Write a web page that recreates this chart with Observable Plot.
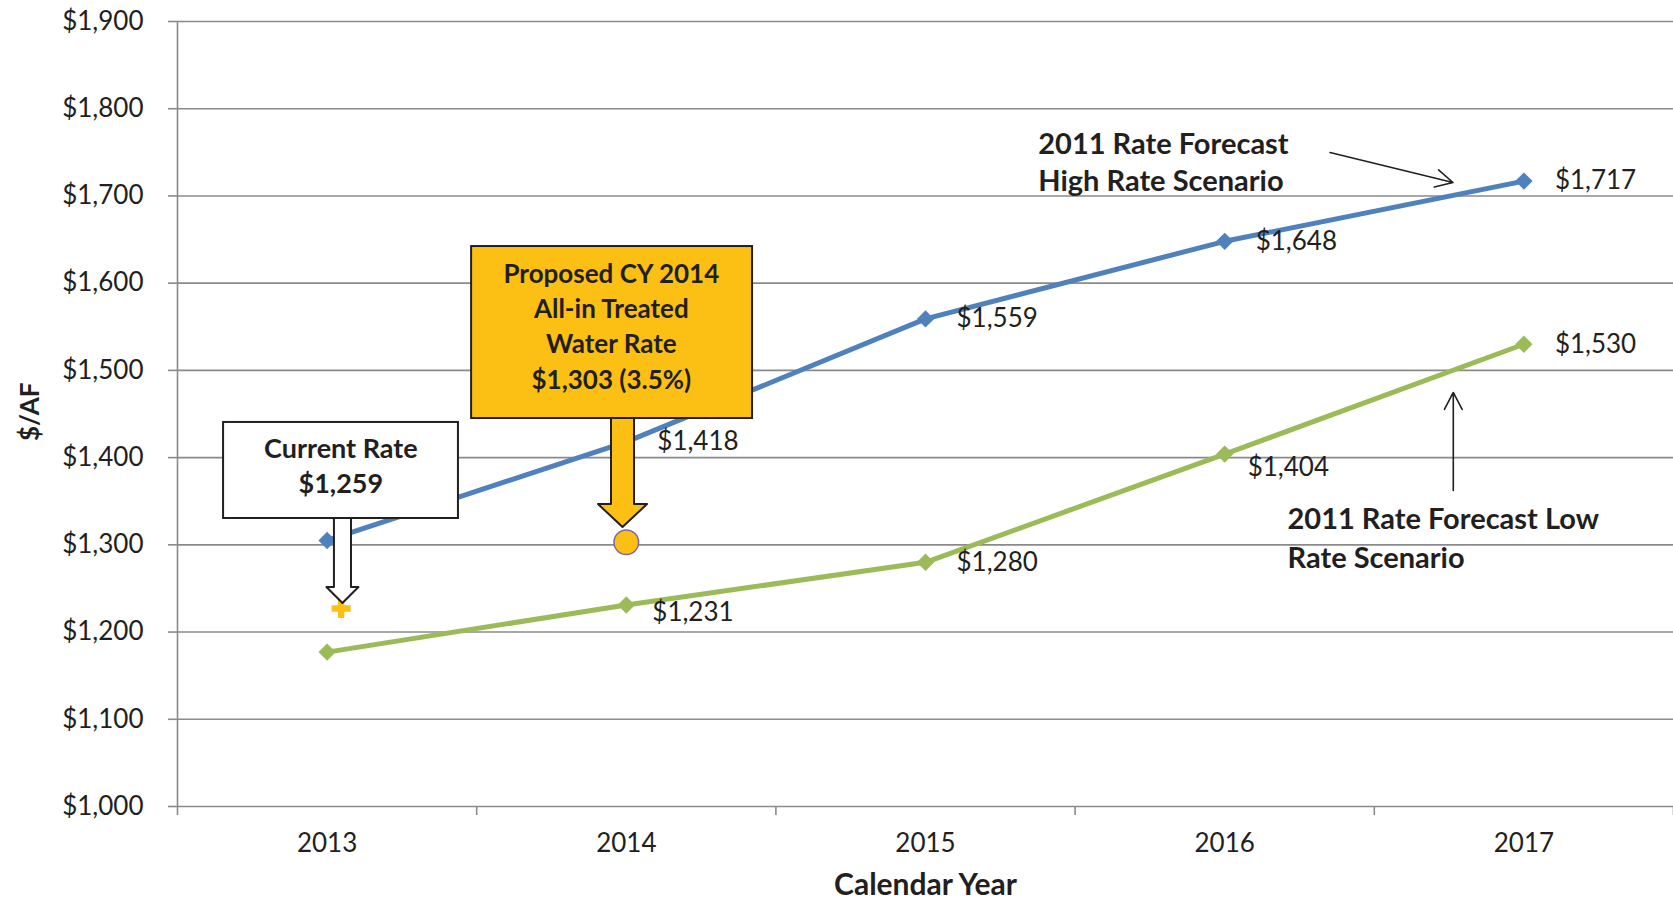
<!DOCTYPE html>
<html>
<head>
<meta charset="utf-8">
<script src="https://cdn.jsdelivr.net/npm/d3@7"></script>
<script src="https://cdn.jsdelivr.net/npm/@observablehq/plot@0.6"></script>
<style>
  html, body { margin: 0; padding: 0; background: #fff; }
  #chart svg { display: block; }
</style>
</head>
<body>
<div id="chart"></div>
<script>
// ---- data ----
const years = [2013, 2014, 2015, 2016, 2017];
const highRate = [1305, 1418, 1559, 1648, 1717];   // 2011 Rate Forecast – High Rate Scenario
const lowRate  = [1177, 1231, 1280, 1404, 1530];   // 2011 Rate Forecast – Low Rate Scenario
const highLabelled = [false, true, true, true, true];
const lowLabelled  = [false, true, true, true, true];
const proposedYear = 2014, proposedRate = 1303;    // Proposed CY 2014 all-in treated water rate
const currentYear = 2013, currentMarker = 1227;     // small marker under "Current Rate" arrow
const yTicks = [1000, 1100, 1200, 1300, 1400, 1500, 1600, 1700, 1800, 1900];
const xDomain = [2012.5, 2017.5];

// ---- tables built from the arrays ----
const high = years.map((year, i) => ({year, value: highRate[i], show: highLabelled[i]}));
const low  = years.map((year, i) => ({year, value: lowRate[i], show: lowLabelled[i]}));
const bounds = d3.range(xDomain[0], xDomain[1] + 0.001, 1);

const BLUE = "#4F81BD", GREEN = "#9BBB59", GOLD = "#FCC015", GRID = "#8a8a8a", INK = "#231F20";
const money = d => "$" + d3.format(",")(d);

// label offsets (styling only)
const offs = {
  "low-2014": {dx: 26, dy: 8},
  "low-2016": {dx: 23, dy: 14}
};
const off = (s, y) => offs[s + "-" + y] || {dx: 31, dy: 0};
function valueLabels(rows, s) {
  return rows.filter(d => d.show).map(d => Plot.text([d], {
    x: "year", y: "value", text: d => money(d.value),
    textAnchor: "start", dx: off(s, d.year).dx, dy: off(s, d.year).dy, fill: INK
  }));
}

// block arrow built as a vertical area (annotation shape)
function blockArrow(cx, sw, hw, yTop, yHead, yTip) {
  return [
    {y: yTop,  x1: cx - sw, x2: cx + sw},
    {y: yHead, x1: cx - sw, x2: cx + sw},
    {y: yHead, x1: cx - hw, x2: cx + hw},
    {y: yTip,  x1: cx,      x2: cx}
  ];
}

const plot = Plot.plot({
  width: 1673,
  height: 903,
  marginLeft: 177,
  marginRight: 0,
  marginTop: 21,
  marginBottom: 97,
  style: {fontFamily: "Lato, 'Open Sans', sans-serif", fontSize: "26px", color: INK, background: "#fff"},
  x: {type: "linear", domain: xDomain},
  y: {domain: [1000, 1900]},
  marks: [
    Plot.gridY(yTicks, {stroke: GRID, strokeOpacity: 1, strokeWidth: 1.6}),
    Plot.ruleX([xDomain[0]], {stroke: GRID, strokeWidth: 1.6}),
    Plot.axisY(yTicks, {tickSize: 9, tickPadding: 25, tickFormat: money, stroke: GRID, strokeWidth: 1.6, label: null, fill: INK}),
    Plot.axisX(bounds, {tickSize: 9, tickFormat: () => "", stroke: GRID, strokeWidth: 1.6, label: null}),
    Plot.axisX(years, {tickSize: 0, tickPadding: 27, tickFormat: d => String(d), label: null, fill: INK}),
    Plot.text(["$/AF"], {frameAnchor: "left", rotate: -90, dx: -147, dy: 27, fontWeight: "bold", fill: INK}),
    Plot.text(["Calendar Year"], {frameAnchor: "bottom", dy: 88, fontWeight: "bold", fontSize: 30, fill: INK}),

    // series
    Plot.line(high, {x: "year", y: "value", stroke: BLUE, strokeWidth: 5}),
    Plot.dot(high, {x: "year", y: "value", symbol: "diamond2", r: 7.8, fill: BLUE}),
    Plot.line(low, {x: "year", y: "value", stroke: GREEN, strokeWidth: 5}),
    Plot.dot(low, {x: "year", y: "value", symbol: "diamond2", r: 7.8, fill: GREEN}),
    ...valueLabels(high, "high"),
    ...valueLabels(low, "low"),

    // proposed rate annotation
    Plot.rect([0], {x1: 2013.483, x2: 2014.422, y1: 1444.8, y2: 1642.0, fill: GOLD, stroke: INK, strokeWidth: 2}),
    Plot.text([0], {x: 2013.950, y: 1552.4, text: () => "Proposed CY 2014\nAll-in Treated\nWater Rate\n$1,303 (3.5%)",
      fontWeight: "bold", lineHeight: 1.35, fill: INK}),
    Plot.areaX(blockArrow(2013.989, 0.0385, 0.082, 1444.8, 1346.2, 1319.9),
      {y: "y", x1: "x1", x2: "x2", fill: GOLD, stroke: INK, strokeWidth: 2, curve: "linear"}),
    Plot.dot([{year: proposedYear, value: proposedRate}], {x: "year", y: "value", r: 12.3, fill: GOLD, stroke: "#8064A2", strokeWidth: 1.5}),

    // current rate annotation
    Plot.dot([{year: currentYear, value: currentMarker}], {x: "year", y: "value", symbol: "cross", r: 8, fill: GOLD, dx: 14}),
    Plot.areaX(blockArrow(2013.053, 0.0285, 0.0535, 1330.2, 1251.1, 1232.7),
      {y: "y", x1: "x1", x2: "x2", fill: "#fff", stroke: INK, strokeWidth: 2, curve: "linear"}),
    Plot.rect([0], {x1: 2012.654, x2: 2013.439, y1: 1330.2, y2: 1440.3, fill: "#fff", stroke: INK, strokeWidth: 2}),
    Plot.text([0], {x: 2013.046, y: 1392.1, text: () => "Current Rate\n$1,259", fontWeight: "bold", fontSize: 27, lineHeight: 1.3, fill: INK}),

    // scenario call-outs
    Plot.text([0], {x: 2015.377, y: 1740.4, text: () => "2011 Rate Forecast\nHigh Rate Scenario",
      textAnchor: "start", fontWeight: "bold", fontSize: 29, lineHeight: 1.28, fill: INK}),
    Plot.arrow([0], {x1: 2016.352, y1: 1749.8, x2: 2016.763, y2: 1715.4, stroke: INK, strokeWidth: 1.6, headLength: 18, headAngle: 55, bend: 0}),
    Plot.text([0], {x: 2016.210, y: 1310.5, text: () => "2011 Rate Forecast Low\nRate Scenario",
      textAnchor: "start", fontWeight: "bold", fontSize: 29, lineHeight: 1.345, fill: INK}),
    Plot.arrow([0], {x1: 2016.764, y1: 1362.3, x2: 2016.764, y2: 1474.7, stroke: INK, strokeWidth: 1.6, headLength: 18, headAngle: 55, bend: 0})
  ]
});
document.getElementById("chart").append(plot);
</script>
</body>
</html>
